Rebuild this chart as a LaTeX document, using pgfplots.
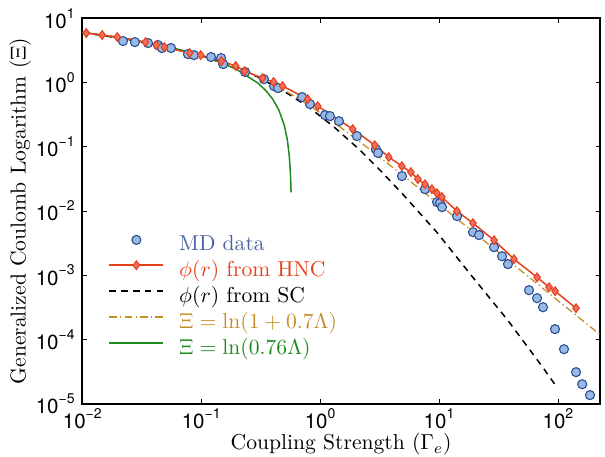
\documentclass[border=0pt]{standalone}
\usepackage{fontspec}
\newfontfamily\heros{TeX Gyre Heros}
\usepackage{pgfplots}
\pgfplotsset{compat=1.18}

\definecolor{mdfill}{RGB}{150,186,230}
\definecolor{mdedge}{RGB}{45,75,145}
\definecolor{mdtext}{RGB}{74,98,160}
\definecolor{hncred}{RGB}{232,64,28}
\definecolor{hncfill}{RGB}{240,112,96}
\definecolor{gold}{RGB}{196,142,42}
\definecolor{grn}{RGB}{30,138,30}

% tick label: 10^n in a Helvetica-like face
\newcommand{\decade}[1]{\pgfmathtruncatemacro{\ex}{round(#1)}%
  {\heros\fontsize{9.5}{10}\selectfont 10\raisebox{0.5em}{\fontsize{6.5}{7}\selectfont\ifnum\ex<0 \char"2212\relax\number-\ex\else\ex\fi}}}

\tikzset{
  mdstyle/.style={only marks, mark=*, mark size=2.1pt, mark options={fill=mdfill, draw=mdedge, line width=0.5pt}},
  hncstyle/.style={draw=hncred, color=hncred, line width=0.7pt, mark=diamond*, mark size=2pt, mark options={fill=hncfill, draw=hncred, line width=0.5pt, solid}},
  scstyle/.style={draw=black, line width=0.7pt, dash pattern=on 3pt off 2.5pt},
  gstyle/.style={draw=gold, line width=0.6pt, dash pattern=on 3.5pt off 1.5pt on 0.6pt off 1.5pt},
  lnstyle/.style={draw=grn, line width=0.7pt},
}

\begin{document}
\begin{tikzpicture}
\begin{axis}[
  scale only axis, width=239.7pt, height=178.4pt,
  xmode=log, ymode=log, log basis x=10, log basis y=10,
  xmin=0.01, xmax=226, ymin=1e-5, ymax=10,
  xtick={0.01,0.1,1,10,100}, ytick={1e-5,1e-4,1e-3,1e-2,1e-1,1,10},
  xticklabel={\decade{\tick}}, yticklabel={\decade{\tick}},
  xticklabel style={inner sep=1pt, yshift=-1pt},
  tick align=inside, major tick length=2pt, minor tick length=1.2pt,
  every tick/.style={black, line width=0.4pt},
  axis line style={line width=0.8pt},
  xlabel={Coupling Strength ($\Gamma_e$)},
  ylabel={Generalized Coulomb Logarithm ($\Xi$)},
  every axis x label/.style={at={(axis description cs:0.5,-0.106)}, anchor=center, inner sep=0.5pt},
  every axis y label/.style={at={(axis description cs:-0.1197,0.5)}, rotate=90, anchor=center},
  legend cell align=left,
  legend style={draw=none, fill=none, at={(axis description cs:0.05,0.438)}, anchor=north west,
    row sep=3pt, column sep=7pt, inner sep=0pt, nodes={inner sep=0pt}},
  legend image code/.code={\draw[mark repeat=2,mark phase=2,#1] plot coordinates {(0pt,2.3pt) (12.5pt,2.3pt) (25pt,2.3pt)};},
]
\addlegendimage{mdstyle}
\addlegendentry{\textcolor{mdtext}{MD data}}
\addlegendimage{hncstyle}
\addlegendentry{\textcolor{hncred}{$\phi(r)$ from HNC}}
\addlegendimage{scstyle}
\addlegendentry{$\phi(r)$ from SC}
\addlegendimage{gstyle}
\addlegendentry{\textcolor{gold}{$\Xi=\ln(1+0.7\Lambda)$}}
\addlegendimage{lnstyle}
\addlegendentry{\textcolor{grn}{$\Xi=\ln(0.76\Lambda)$}}

% phi(r) from SC
\addplot[scstyle, forget plot] coordinates {
(0.01,6.00) (0.02,4.97) (0.05,3.61) (0.1,2.62) (0.2,1.70) (0.3,1.22) (0.5,0.73)
(0.822,0.401) (1.3,0.206) (2.166,0.0888) (3.2,0.0431) (4.95,0.01834) (9.57,4.69e-3)
(19.2,9.34e-4) (37.8,2.0e-4) (74.5,3.70e-5) (98,1.8e-5)};

% Xi = ln(1+0.7 Lambda)
\addplot[gstyle, forget plot] coordinates {
(0.01,6.004) (0.02,4.969) (0.03,4.367) (0.05,3.615) (0.07,3.128) (0.1,2.623) (0.15,2.074)
(0.2,1.708) (0.3,1.241) (0.4,0.954) (0.5,0.762) (0.7,0.525) (1,0.3395) (1.5,0.1989)
(2,0.1336) (3,0.0749) (5,0.0355) (7,0.0216) (10,0.0127) (20,0.00451) (30,0.00246)
(50,0.00114) (70,6.90e-4) (100,4.04e-4) (150,2.20e-4) (230,1.16e-4)};

% Xi = ln(0.76 Lambda)
\addplot[lnstyle, forget plot] coordinates {
(0.01,6.084) (0.02,5.044) (0.03,4.436) (0.05,3.670) (0.07,3.165) (0.1,2.630) (0.15,2.022)
(0.2,1.590) (0.3,0.982) (0.35,0.751) (0.4,0.551) (0.45,0.374) (0.5,0.216) (0.53,0.1287)
(0.55,0.0731) (0.56,0.0460) (0.565,0.0327) (0.57,0.0195)};

% MD data
\addplot[mdstyle, forget plot] coordinates {
(0.0220,4.43) (0.0277,4.27) (0.0357,4.12) (0.0433,3.84) (0.0468,3.45) (0.0557,3.45)
(0.0774,2.78) (0.0870,2.68) (0.121,2.50) (0.147,2.41) (0.153,1.94) (0.234,1.46)
(0.337,1.13) (0.410,0.882) (0.443,0.821) (0.705,0.594) (0.822,0.463) (1.10,0.312)
(1.21,0.301) (1.44,0.251) (2.04,0.147) (2.95,0.092) (3.07,0.080) (4.88,0.035)
(7.63,0.0219) (9.62,0.0138) (10.2,0.0133) (10.6,0.0115) (14.2,0.00833) (19.3,0.00469)
(21.7,0.00422) (29.0,0.00274) (33.9,0.00198) (38.0,0.00149) (57.1,5.86e-4) (66.7,4.40e-4)
(74.9,3.18e-4) (94.5,1.45e-4) (112.5,7.06e-5) (142,3.10e-5) (160,2.01e-5) (186,1.36e-5)};

% phi(r) from HNC
\addplot[hncstyle, forget plot] coordinates {
(0.0108,5.91) (0.0147,5.50) (0.0197,5.12) (0.034,4.27) (0.042,3.84) (0.049,3.57)
(0.080,2.88) (0.099,2.68) (0.148,2.16) (0.195,1.81) (0.232,1.51) (0.328,1.175)
(0.406,1.02) (0.484,0.882) (0.786,0.553) (0.955,0.430) (1.88,0.189) (2.88,0.106)
(3.78,0.0691) (4.87,0.0500) (5.80,0.0404) (6.64,0.0314) (7.61,0.0262) (8.71,0.0219)
(9.60,0.0190) (10.57,0.0165) (14.15,0.00996) (19.3,0.00648) (29.0,0.00352) (42.7,0.00178)
(66.8,9.3e-4) (84.3,6.5e-4) (94.7,5.65e-4) (142,3.07e-4)};
\end{axis}
\pgfresetboundingbox
\path ([shift={(-38.1pt,-24.3pt)}]current axis.south west) rectangle ([shift={(2.3pt,8.5pt)}]current axis.north east);
\end{tikzpicture}
\end{document}
